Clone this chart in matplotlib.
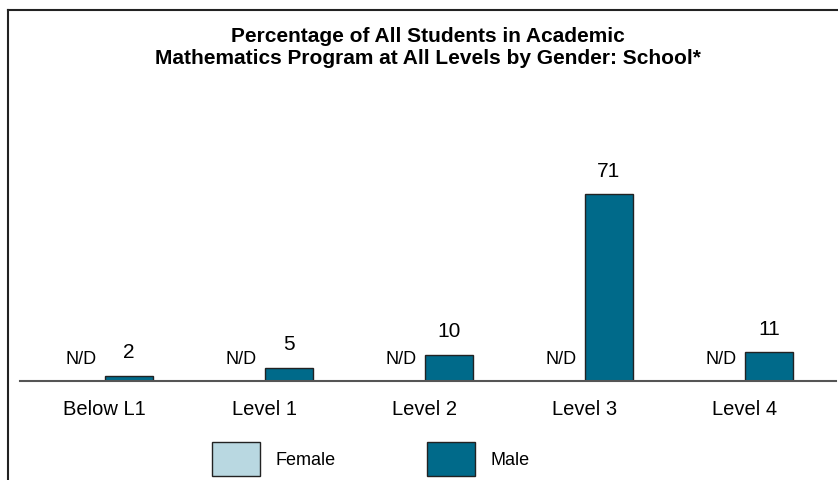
import matplotlib.pyplot as plt
from matplotlib.lines import Line2D
import numpy as np

plt.rcParams['font.family'] = ['Liberation Sans', 'DejaVu Sans']

# data (female values not disclosed)
levels = ["Below L1", "Level 1", "Level 2", "Level 3", "Level 4"]
female = [np.nan, np.nan, np.nan, np.nan, np.nan]
male = [2, 5, 10, 71, 11]

female_color = "#b9d8e1"
male_color = "#006a8a"

fig = plt.figure(figsize=(8.38, 4.8), dpi=100)
ax = fig.add_axes([20 / 838, 99 / 480, 816 / 838, 263.4 / 480])

x = np.arange(len(levels))
w = 0.3
fb = ax.bar(x - w / 2, np.nan_to_num(female), w, color=female_color,
            edgecolor="#222222", linewidth=1, label="Female")
mb = ax.bar(x + w / 2, male, w, color=male_color,
            edgecolor="#222222", linewidth=1, label="Male")

for xi, v in zip(x, female):
    txt = "N/D" if np.isnan(v) else f"{v:g}"
    ax.annotate(txt, (xi - w / 2, 0 if np.isnan(v) else v), xytext=(0, 15.8),
                textcoords="offset points", ha="center", va="center", fontsize=13)
for xi, v in zip(x, male):
    ax.annotate(f"{v:g}", (xi + w / 2, v), xytext=(0, 16.5),
                textcoords="offset points", ha="center", va="center", fontsize=15)

ax.set_xlim(-0.53, 4.57)
ax.set_ylim(0, 100)
ax.set_xticks(x)
ax.set_xticklabels(levels, fontsize=14.5)
ax.tick_params(axis="x", length=0, pad=14)
ax.set_yticks([])
for s in ["top", "right", "left"]:
    ax.spines[s].set_visible(False)
ax.spines["bottom"].set_color("#555555")
ax.spines["bottom"].set_linewidth(1.5)

fig.text(428 / 838, 1 - 36 / 480, "Percentage of All Students in Academic",
         ha="center", va="center", fontsize=15, fontweight="bold")
fig.text(428 / 838, 1 - 59 / 480, "Mathematics Program at All Levels by Gender: School*",
         ha="center", va="center", fontsize=15, fontweight="bold")

leg = fig.legend(handles=[fb, mb], labels=["Female", "Male"], ncol=2,
                 loc="center left", bbox_to_anchor=(212 / 838, 1 - 459 / 480),
                 frameon=False, fontsize=13, handlelength=2.67, handleheight=2.5,
                 handletextpad=0.85, columnspacing=5.05, borderpad=0, borderaxespad=0)

# outer frame (top and left edges visible in the crop)
fig.add_artist(Line2D([7.5 / 838, 7.5 / 838], [0, 1 - 10 / 480],
                      transform=fig.transFigure, color="#222222", linewidth=1.5))
fig.add_artist(Line2D([7.5 / 838, 1], [1 - 10 / 480, 1 - 10 / 480],
                      transform=fig.transFigure, color="#222222", linewidth=1.5))

fig.savefig("out.png", dpi=100)
